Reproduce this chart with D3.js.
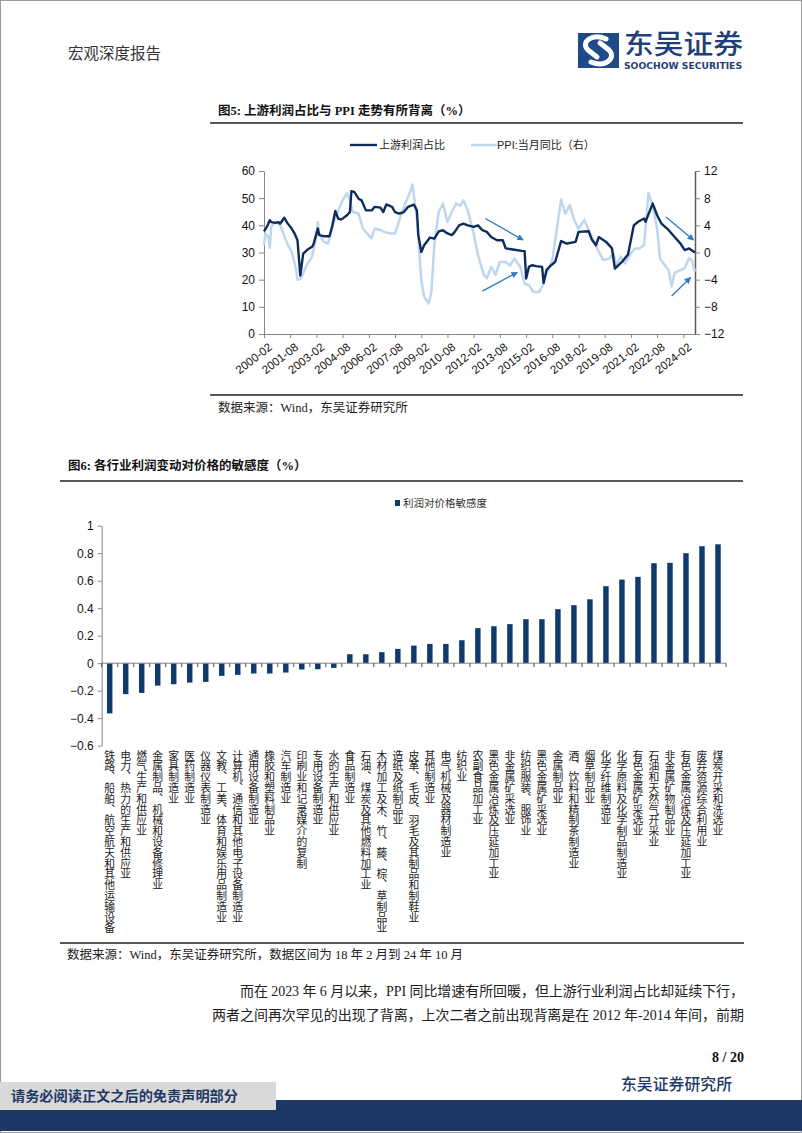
<!DOCTYPE html>
<html><head><meta charset="utf-8">
<script src="https://cdn.jsdelivr.net/npm/d3@7"></script>
<style>
body{margin:0;background:#fff}
svg{display:block}
.vlab{writing-mode:vertical-rl;text-orientation:upright}
</style>
</head><body>
<svg id="page" width="802" height="1133"></svg>
<script>
// ---------- Chart 1 data ----------
const profitDates = ["2000-02","2000-04","2000-06","2000-07","2000-10","2000-12","2001-01","2001-04","2001-06","2001-09","2001-11","2002-01","2002-03","2002-05","2002-08","2002-11","2002-12","2003-03","2003-04","2003-07","2003-11","2004-01","2004-03","2004-05","2004-07","2004-11","2005-01","2005-02","2005-04","2005-07","2005-09","2005-12","2006-04","2006-06","2006-10","2006-12","2007-02","2007-06","2007-08","2007-11","2008-02","2008-05","2008-09","2008-11","2008-12","2009-02","2009-04","2009-08","2009-11","2010-02","2010-05","2010-08","2010-11","2011-01","2011-04","2011-07","2011-10","2012-02","2012-05","2012-08","2012-11","2013-02","2013-06","2013-10","2013-12","2014-05","2014-11","2015-01","2015-02","2015-04","2015-06","2015-09","2016-01","2016-02","2016-04","2016-06","2016-10","2017-02","2017-06","2017-12","2018-02","2018-09","2018-11","2019-02","2019-04","2019-09","2020-01","2020-03","2020-08","2020-12","2021-04","2021-07","2021-11","2021-12","2022-05","2022-08","2022-11","2023-04","2023-08","2023-12","2024-03","2024-06","2024-10"];
const profitValues = [37.8,39.4,41.9,41.2,40.9,41.2,40.6,42.8,40.9,38.8,37.0,34.5,21.5,29.6,31.1,32.1,33.0,38.8,36.4,36.0,36.0,40.0,45.3,42.5,42.1,43.7,44.9,52.6,52.3,49.8,49.2,45.5,45.5,46.8,46.5,44.9,47.7,46.8,44.9,44.3,44.9,46.8,47.6,45.5,36.4,30.2,32.7,35.5,35.1,37.8,38.2,37.0,36.4,37.6,40.0,40.6,40.0,39.4,40.0,38.2,37.6,35.7,34.5,34.5,31.5,31.1,30.6,30.5,20.4,24.7,25.3,25.0,24.7,18.8,23.5,24.7,26.6,34.2,33.3,33.9,37.6,37.8,34.9,32.7,35.7,33.9,31.5,24.1,26.6,29.3,40.0,41.3,42.5,41.3,48.0,43.7,40.6,38.2,35.7,33.3,30.9,31.5,30.0];

const ppiDates = ["2000-02","2000-03","2000-05","2000-06","2000-07","2000-10","2001-01","2001-03","2001-06","2001-09","2001-12","2002-01","2002-03","2002-05","2002-07","2002-11","2003-02","2003-03","2003-04","2003-07","2003-10","2004-01","2004-04","2004-08","2004-11","2005-01","2005-03","2005-07","2005-10","2006-02","2006-04","2006-06","2006-10","2007-01","2007-05","2007-08","2007-11","2008-03","2008-06","2008-08","2008-11","2009-02","2009-04","2009-07","2009-09","2009-11","2010-02","2010-05","2010-08","2010-11","2011-02","2011-05","2011-07","2011-10","2012-02","2012-05","2012-09","2012-11","2013-02","2013-05","2013-08","2013-12","2014-03","2014-06","2014-10","2015-01","2015-04","2015-07","2015-11","2016-02","2016-04","2016-08","2016-11","2017-02","2017-05","2017-08","2017-11","2018-02","2018-06","2018-09","2018-12","2019-04","2019-07","2019-11","2020-02","2020-04","2020-07","2020-10","2021-02","2021-05","2021-08","2021-11","2022-01","2022-02","2022-05","2022-08","2022-10","2022-12","2023-04","2023-06","2023-08","2023-12","2024-03","2024-06","2024-08","2024-10"];
const ppiValues = [1.1,2.8,2.3,0.7,3.8,4.5,4.0,3.0,1.3,0.1,-2.4,-4.0,-3.9,-3.1,-2.0,-0.6,2.3,4.5,2.8,1.6,1.3,3.8,5.7,7.7,8.7,7.7,6.0,5.7,3.5,2.5,2.1,3.5,3.3,3.0,2.8,2.8,4.8,7.2,8.7,10.0,5.0,-4.1,-6.5,-7.5,-5.8,1.3,6.0,7.2,4.5,6.0,7.2,6.9,7.7,6.2,2.8,-0.4,-3.3,-3.8,-2.1,-3.3,-1.4,-1.4,-1.9,-0.9,-2.1,-4.6,-4.8,-5.8,-5.8,-4.6,-3.1,-1.1,3.3,7.8,5.7,7.0,4.8,3.5,4.8,3.3,1.8,0.1,-1.1,-0.9,-0.1,-1.9,-0.6,-1.6,-0.1,0.6,0.6,1.1,6.0,8.8,6.9,3.5,-0.9,-1.5,-2.6,-5.0,-3.0,-2.6,-2.3,-0.8,-1.2,-2.8];

const xTickLabels = ["2000-02","2001-08","2003-02","2004-08","2006-02","2007-08","2009-02","2010-08","2012-02","2013-08","2015-02","2016-08","2018-02","2019-08","2021-02","2022-08","2024-02"];
const leftTicks = [0,10,20,30,40,50,60];
const rightTicks = [-12,-8,-4,0,4,8,12];
// annotation arrows in data space (date, left-axis value)
const arrowFrom = [["2012-10",42.5],["2012-08",15.8],["2023-02",43.1],["2023-06",14.0]];
const arrowTo   = [["2014-12",34.6],["2014-08",22.7],["2024-09",34.6],["2024-07",20.8]];

// ---------- Chart 2 data ----------
const industries = ["铁路、船舶、航空航天和其他运输设备","电力、热力的生产和供应业","燃气生产和供应业","金属制品、机械和设备修理业","家具制造业","医药制造业","仪器仪表制造业","文教、工美、体育和娱乐用品制造业","计算机、通信和其他电子设备制造业","通用设备制造业","橡胶和塑料制品业","汽车制造业","印刷业和记录媒介的复制","专用设备制造业","水的生产和供应业","食品制造业","石油、煤炭及其他燃料加工业","木材加工及木、竹、藤、棕、草制品业","造纸及纸制品业","皮革、毛皮、羽毛及其制品和制鞋业","其他制造业","电气机械及器材制造业","纺织业","农副食品加工业","黑色金属冶炼及压延加工业","非金属矿采选业","纺织服装、服饰业","黑色金属矿采选业","金属制品业","酒、饮料和精制茶制造业","烟草制品业","化学纤维制造业","化学原料及化学制品制造业","有色金属矿采选业","石油和天然气开采业","非金属矿物制品业","有色金属冶炼及压延加工业","废弃资源综合利用业","煤炭开采和洗选业"];
const sensitivity = [-0.365,-0.225,-0.216,-0.163,-0.153,-0.141,-0.136,-0.092,-0.085,-0.075,-0.075,-0.068,-0.046,-0.044,-0.034,0.065,0.065,0.08,0.104,0.128,0.14,0.14,0.167,0.255,0.269,0.284,0.32,0.32,0.393,0.422,0.465,0.56,0.608,0.628,0.727,0.73,0.80,0.851,0.865];
const sensTicks = [-0.6,-0.4,-0.2,0,0.2,0.4,0.6,0.8,1];

// ---------- drawing ----------
const svg = d3.select("#page");
const SERIF = "'Liberation Serif','Noto Sans CJK SC',serif";
const CJK = "'Noto Sans CJK SC',sans-serif";
const SANS = "'Liberation Sans','Noto Sans CJK SC',sans-serif";

// page border
svg.append("rect").attr("x",0.5).attr("y",0.5).attr("width",801).attr("height",1132)
  .attr("fill","none").attr("stroke","#9a9a9a").attr("stroke-width",1);

// header
svg.append("text").attr("x",68).attr("y",59).attr("font-family",CJK).attr("font-size",15.5)
  .attr("fill","#333").text("宏观深度报告");
// logo
const lg = svg.append("g");
lg.append("rect").attr("x",578).attr("y",33).attr("width",41).attr("height",35).attr("fill","#1f4a8a");
lg.append("path").attr("d","M606,39 C592,33 580,42 588,50 L597,57")
  .attr("fill","none").attr("stroke","#fff").attr("stroke-width",5).attr("stroke-linecap","round");
lg.append("path").attr("d","M591,62 C605,68 617,58 609,50 L600,43")
  .attr("fill","none").attr("stroke","#fff").attr("stroke-width",5).attr("stroke-linecap","round");
svg.append("text").attr("x",624).attr("y",54).attr("font-family",CJK).attr("font-size",27)
  .attr("font-weight",500).attr("fill","#1f3f7a").attr("textLength",119).attr("lengthAdjust","spacingAndGlyphs").text("东吴证券");
svg.append("text").attr("x",624).attr("y",69).attr("font-family","'DejaVu Sans',sans-serif").attr("font-size",8.4)
  .attr("font-weight","bold").attr("fill","#1f3f7a").attr("textLength",118).attr("lengthAdjust","spacingAndGlyphs").text("SOOCHOW SECURITIES");

// ---------- Chart 1 ----------
svg.append("text").attr("x",218).attr("y",115).attr("font-family",SERIF).attr("font-size",12.5)
  .attr("font-weight","bold").attr("fill","#111").text("图5: 上游利润占比与 PPI 走势有所背离（%）");
svg.append("line").attr("x1",210).attr("x2",743).attr("y1",123).attr("y2",123).attr("stroke","#222").attr("stroke-width",1.6);

const parse = d3.timeParse("%Y-%m");
const x1 = d3.scaleTime().domain([parse("2000-02"),parse("2024-10")]).range([264,695]);
const yL = d3.scaleLinear().domain([0,60]).range([334,171]);
const yR = d3.scaleLinear().domain([-12,12]).range([334,171]);

const g1 = svg.append("g");
const axL = g1.append("g").attr("transform","translate(264,0)")
  .call(d3.axisLeft(yL).tickValues(leftTicks).tickSize(5).tickSizeOuter(0).tickPadding(4));
const axR = g1.append("g").attr("transform","translate(695,0)")
  .call(d3.axisRight(yR).tickValues(rightTicks).tickSize(5).tickSizeOuter(0).tickPadding(4));
const axB = g1.append("g").attr("transform","translate(0,334)")
  .call(d3.axisBottom(x1).tickValues(xTickLabels.map(parse)).tickFormat(d3.timeFormat("%Y-%m")).tickSize(4).tickSizeOuter(0));
[axL,axR,axB].forEach(a=>{
  a.selectAll("path,line").attr("stroke","#868686");
  a.selectAll("text").attr("font-family",SANS).attr("font-size",12).attr("fill","#111");
});
axR.selectAll("path").attr("stroke","#595959").attr("stroke-width",1.5);
axB.selectAll("text").attr("text-anchor","end").attr("dx",0).attr("dy",0)
  .attr("transform","translate(4,9) rotate(-38)").attr("font-size",11.5);

const ppiData = ppiDates.map((d,i)=>({d:parse(d),v:ppiValues[i]}));
const profData = profitDates.map((d,i)=>({d:parse(d),v:profitValues[i]}));
g1.append("path").datum(ppiData).attr("fill","none").attr("stroke","#bdd7ee").attr("stroke-width",2.5)
  .attr("stroke-linejoin","round").attr("d",d3.line().x(p=>x1(p.d)).y(p=>yR(p.v)));
g1.append("path").datum(profData).attr("fill","none").attr("stroke","#0e2d5c").attr("stroke-width",2.4)
  .attr("stroke-linejoin","round").attr("d",d3.line().x(p=>x1(p.d)).y(p=>yL(p.v)));

// arrows
const defs = svg.append("defs");
defs.append("marker").attr("id","ah").attr("viewBox","0 0 10 10").attr("refX",9).attr("refY",5)
  .attr("markerWidth",5).attr("markerHeight",5).attr("orient","auto")
  .append("path").attr("d","M0,0 L10,5 L0,10 z").attr("fill","#2b7bc4");
arrowFrom.forEach((f,i)=>{
  const t = arrowTo[i];
  g1.append("line").attr("x1",x1(parse(f[0]))).attr("y1",yL(f[1]))
    .attr("x2",x1(parse(t[0]))).attr("y2",yL(t[1]))
    .attr("stroke","#2b7bc4").attr("stroke-width",1.3).attr("marker-end","url(#ah)");
});

// legend 1
const lg1 = g1.append("g").attr("font-family",SANS).attr("font-size",11).attr("fill","#222");
lg1.append("line").attr("x1",350).attr("x2",377).attr("y1",145).attr("y2",145).attr("stroke","#0e2d5c").attr("stroke-width",2.4);
lg1.append("text").attr("x",379).attr("y",149).text("上游利润占比");
lg1.append("line").attr("x1",471).attr("x2",497).attr("y1",145).attr("y2",145).attr("stroke","#bdd7ee").attr("stroke-width",2.5);
lg1.append("text").attr("x",497).attr("y",149).text("PPI:当月同比（右）");

svg.append("line").attr("x1",210).attr("x2",743).attr("y1",395).attr("y2",395).attr("stroke","#222").attr("stroke-width",1.6);
svg.append("text").attr("x",218).attr("y",412).attr("font-family",SERIF).attr("font-size",12.5)
  .attr("fill","#222").text("数据来源：Wind，东吴证券研究所");

// ---------- Chart 2 ----------
svg.append("text").attr("x",68).attr("y",470).attr("font-family",SERIF).attr("font-size",12.5)
  .attr("font-weight","bold").attr("fill","#111").text("图6: 各行业利润变动对价格的敏感度（%）");
svg.append("line").attr("x1",60).attr("x2",743).attr("y1",481).attr("y2",481).attr("stroke","#222").attr("stroke-width",1.6);

const x2 = d3.scaleBand().domain(industries).range([101.7,726]).paddingInner(0.66).paddingOuter(0.33);
const y2 = d3.scaleLinear().domain([-0.6,1]).range([745.7,525.7]);
const g2 = svg.append("g");
const ax2 = g2.append("g").attr("transform","translate(101.7,0)")
  .call(d3.axisLeft(y2).tickValues(sensTicks).tickSize(4).tickSizeOuter(0).tickPadding(4).tickFormat(d3.format("~g")));
ax2.selectAll("path,line").attr("stroke","#868686");
ax2.selectAll("text").attr("font-family",SANS).attr("font-size",12).attr("fill","#111");

g2.selectAll("rect.bar").data(industries).join("rect").attr("class","bar")
  .attr("x",d=>x2(d)).attr("width",x2.bandwidth())
  .attr("y",(d,i)=>y2(Math.max(0,sensitivity[i])))
  .attr("height",(d,i)=>Math.abs(y2(sensitivity[i])-y2(0)))
  .attr("fill","#0f3a6b");

// zero axis + ticks at band boundaries
const step = x2.step();
const bounds = d3.range(industries.length+1).map(k=>x2.range()[0]+k*step);
g2.append("line").attr("x1",x2.range()[0]).attr("x2",x2.range()[1]).attr("y1",y2(0)).attr("y2",y2(0)).attr("stroke","#868686");
g2.selectAll("line.tk").data(bounds).join("line").attr("class","tk")
  .attr("x1",d=>d).attr("x2",d=>d).attr("y1",y2(0)).attr("y2",y2(0)+4).attr("stroke","#555");

// vertical category labels
g2.selectAll("text.vlab").data(industries).join("text").attr("class","vlab")
  .attr("x",d=>x2(d)+x2.bandwidth()/2).attr("y",750)
  .attr("font-family",CJK).attr("font-size",10.8).attr("fill","#222").text(d=>d);

// legend 2
g2.append("rect").attr("x",395).attr("y",500).attr("width",5).attr("height",6).attr("fill","#0f3a6b");
g2.append("text").attr("x",403).attr("y",507).attr("font-family",CJK).attr("font-size",10.5).attr("fill","#333").text("利润对价格敏感度");

svg.append("line").attr("x1",60).attr("x2",744).attr("y1",943).attr("y2",943).attr("stroke","#222").attr("stroke-width",1.6);
svg.append("text").attr("x",67).attr("y",959).attr("font-family",SERIF).attr("font-size",12.5)
  .attr("fill","#222").text("数据来源：Wind，东吴证券研究所，数据区间为 18 年 2 月到 24 年 10 月");

// paragraph
svg.append("text").attr("x",240).attr("y",996).attr("font-family",SERIF).attr("font-size",14)
  .attr("fill","#222").attr("textLength",504).attr("lengthAdjust","spacing")
  .text("而在 2023 年 6 月以来，PPI 同比增速有所回暖，但上游行业利润占比却延续下行，");
svg.append("text").attr("x",212).attr("y",1020).attr("font-family",SERIF).attr("font-size",14)
  .attr("fill","#222").attr("textLength",532).attr("lengthAdjust","spacing")
  .text("两者之间再次罕见的出现了背离，上次二者之前出现背离是在 2012 年-2014 年间，前期");

// page number + footer
svg.append("text").attr("x",744).attr("y",1062).attr("text-anchor","end").attr("font-family",SERIF)
  .attr("font-size",14).attr("font-weight","bold").attr("fill","#111").text("8 / 20");
svg.append("text").attr("x",621).attr("y",1090).attr("font-family",CJK).attr("font-size",16)
  .attr("font-weight",500).attr("fill","#1f3a68").attr("textLength",111).attr("lengthAdjust","spacingAndGlyphs").text("东吴证券研究所");
svg.append("rect").attr("x",0).attr("y",1100).attr("width",802).attr("height",31).attr("fill","#1d3864");
svg.append("rect").attr("x",0).attr("y",1082).attr("width",276).attr("height",28).attr("fill","#d9d9d9");
svg.append("text").attr("x",11).attr("y",1101).attr("font-family",CJK).attr("font-size",13.5)
  .attr("font-weight",700).attr("fill","#1d3864").attr("textLength",227).attr("lengthAdjust","spacingAndGlyphs").text("请务必阅读正文之后的免责声明部分");
</script>
</body></html>
